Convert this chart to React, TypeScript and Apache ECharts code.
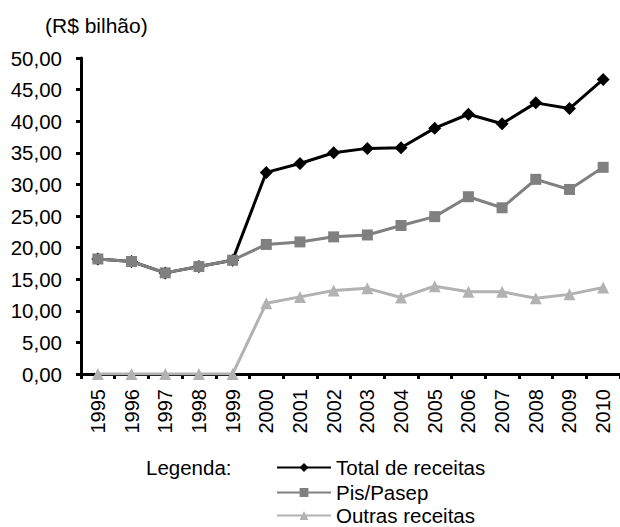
import React, { useEffect, useRef } from "react";
import * as echarts from "echarts";

const years = ["1995","1996","1997","1998","1999","2000","2001","2002","2003","2004","2005","2006","2007","2008","2009","2010"];
const totalReceitas = [18.2, 17.8, 16.0, 17.0, 18.0, 31.9, 33.3, 35.0, 35.7, 35.8, 38.9, 41.1, 39.6, 42.9, 42.0, 46.6];
const pisPasep = [18.2, 17.8, 16.0, 17.0, 18.0, 20.5, 20.9, 21.7, 22.0, 23.5, 24.9, 28.05, 26.3, 30.8, 29.2, 32.7];
const outrasReceitas = [0, 0, 0, 0, 0, 11.2, 12.2, 13.2, 13.55, 12.1, 13.9, 13.0, 13.0, 12.0, 12.6, 13.7];
const legendNames = ["Total de receitas", "Pis/Pasep", "Outras receitas"];
const legendTops = [457, 482, 505];

const FONT = "Liberation Sans, Arial, sans-serif";

export default function App() {
  const ref = useRef<HTMLDivElement>(null);
  useEffect(() => {
    if (!ref.current) return;
    const chart = echarts.init(ref.current, undefined, { renderer: "svg" });
    chart.setOption({
      animation: false,
      backgroundColor: "#ffffff",
      textStyle: { fontFamily: FONT },
      grid: { left: 81, top: 58, bottom: 153, right: -7, containLabel: false },
      graphic: [
        { type: "text", x: 45, y: 25, style: { text: "(R$ bilhão)", fontSize: 21, fontFamily: FONT, fill: "#000", verticalAlign: "middle" } },
        { type: "text", x: 146, y: 467, style: { text: "Legenda:", fontSize: 20.5, fontFamily: FONT, fill: "#000", verticalAlign: "middle" } },
      ],
      legend: legendNames.map((name, i) => ({
        orient: "vertical",
        left: 276,
        top: legendTops[i],
        padding: 0,
        itemWidth: 54,
        itemHeight: 11,
        selectedMode: false,
        textStyle: { fontSize: 20.5, lineHeight: 20, fontFamily: FONT, color: "#000" },
        data: [name],
      })),
      xAxis: {
        type: "category",
        data: years,
        boundaryGap: true,
        axisLine: { lineStyle: { color: "#000", width: 3 } },
        axisTick: { show: true, length: 5, lineStyle: { color: "#000", width: 3 } },
        axisLabel: { rotate: 90, margin: 15, fontSize: 20, color: "#000", fontFamily: FONT },
        splitLine: { show: false },
      },
      yAxis: {
        type: "value",
        min: 0,
        max: 50,
        interval: 5,
        axisLine: { show: true, lineStyle: { color: "#000", width: 3 } },
        axisTick: { show: true, length: 5, lineStyle: { color: "#000", width: 3 } },
        axisLabel: {
          fontSize: 20.5,
          color: "#000",
          fontFamily: FONT,
          margin: 19,
          formatter: (v: number) => v.toFixed(2).replace(".", ","),
        },
        splitLine: { show: false },
      },
      series: [
        {
          name: "Outras receitas",
          type: "line",
          data: outrasReceitas,
          symbol: "triangle",
          symbolSize: 12,
          itemStyle: { color: "#b2b2b2" },
          lineStyle: { color: "#b2b2b2", width: 3 },
          z: 2,
        },
        {
          name: "Total de receitas",
          type: "line",
          data: totalReceitas,
          symbol: "diamond",
          symbolSize: 13,
          itemStyle: { color: "#000" },
          lineStyle: { color: "#000", width: 3 },
          z: 3,
        },
        {
          name: "Pis/Pasep",
          type: "line",
          data: pisPasep,
          symbol: "rect",
          symbolSize: 11,
          itemStyle: { color: "#808080" },
          lineStyle: { color: "#808080", width: 3 },
          z: 4,
        },
      ],
    });
    return () => chart.dispose();
  }, []);
  return <div ref={ref} style={{ position: "fixed", left: 0, top: 0, width: 620, height: 527 }} />;
}
